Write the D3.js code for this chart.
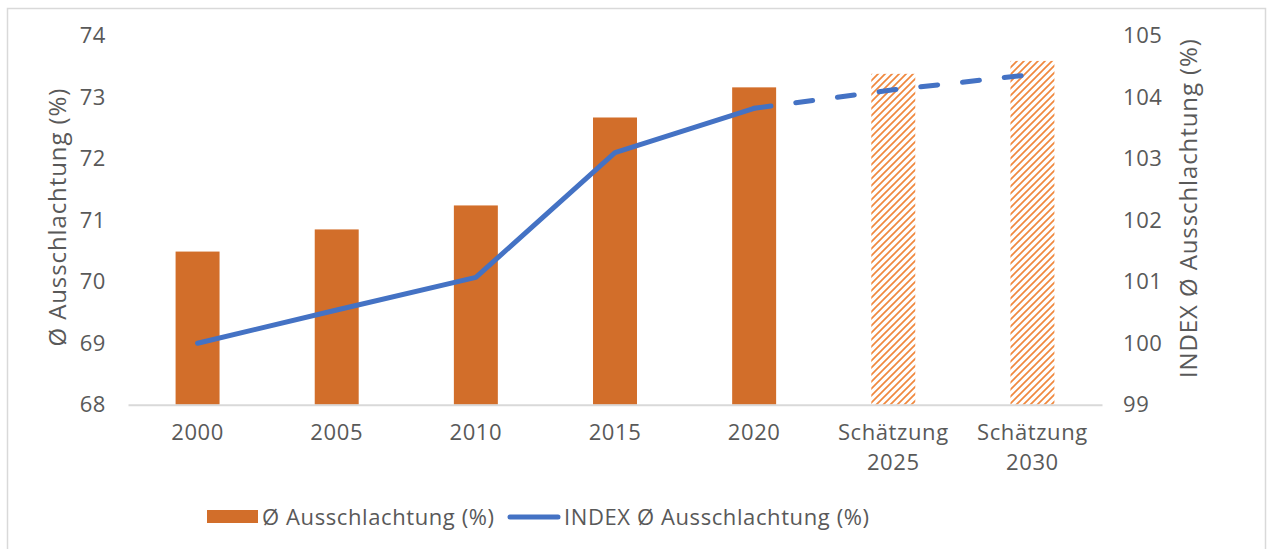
<!DOCTYPE html>
<html>
<head>
<meta charset="utf-8">
<script src="https://cdn.jsdelivr.net/npm/d3@7"></script>
<style>
  body { margin: 0; background: #fff; }
  text { font-family: "Open Sans", sans-serif; fill: #595959; }
</style>
</head>
<body>
<div id="chart"></div>
<script>
// chart data
const categories = ["2000", "2005", "2010", "2015", "2020", "Schätzung 2025", "Schätzung 2030"];
const ausschlachtung = [70.49, 70.85, 71.24, 72.67, 73.16, 73.38, 73.59];
const indexValues = [100.0, 100.54, 101.07, 103.10, 103.82, 104.12, 104.37];
const isEstimate = [false, false, false, false, false, true, true];
const leftTicks = [68, 69, 70, 71, 72, 73, 74];
const rightTicks = [99, 100, 101, 102, 103, 104, 105];
const seriesNames = ["Ø Ausschlachtung (%)", "INDEX Ø Ausschlachtung (%)"];

const width = 1268;
const height = 549;
const plot = { left: 128, right: 1102, top: 35.7, bottom: 404.7 };
const fs = "22px";

const svg = d3.select("#chart")
    .append("svg")
    .attr("width", width)
    .attr("height", height);

// hatch pattern for the estimate bars
const defs = svg.append("defs");
const pat = defs.append("pattern")
    .attr("id", "hatch")
    .attr("patternUnits", "userSpaceOnUse")
    .attr("width", 7)
    .attr("height", 7);
pat.append("rect").attr("width", 7).attr("height", 7).attr("fill", "#fff");
pat.append("path")
    .attr("d", "M-1,8 L8,-1 M-1,1 L1,-1 M6,8 L8,6")
    .attr("stroke", "#F0883E")
    .attr("stroke-width", 1.7);

// chart frame
svg.append("path")
    .attr("d", `M7.5,${height} V8.5 H1265.5 V${height}`)
    .attr("fill", "none")
    .attr("stroke", "#D9D9D9")
    .attr("stroke-width", 1.5);

const x = d3.scaleBand()
    .domain(categories)
    .range([plot.left, plot.right])
    .paddingInner(0.684)
    .paddingOuter(0.342);

const yLeft = d3.scaleLinear().domain([68, 74]).range([plot.bottom, plot.top]);
const yRight = d3.scaleLinear().domain([99, 105]).range([plot.bottom, plot.top]);

// bars
svg.append("g")
    .selectAll("rect")
    .data(categories)
    .join("rect")
    .attr("x", d => x(d))
    .attr("width", x.bandwidth())
    .attr("y", (d, i) => yLeft(ausschlachtung[i]))
    .attr("height", (d, i) => yLeft(68) - yLeft(ausschlachtung[i]))
    .attr("fill", (d, i) => isEstimate[i] ? "url(#hatch)" : "#D26E2A");

// x axis (baseline + labels)
const xAxis = svg.append("g")
    .attr("transform", `translate(0,${plot.bottom})`)
    .call(d3.axisBottom(x).tickSize(0).tickFormat(""));
xAxis.select(".domain").attr("stroke", "#D9D9D9").attr("stroke-width", 2);

xAxis.selectAll(".tick").each(function(d) {
    const t = d3.select(this).append("text")
        .attr("text-anchor", "middle")
        .style("font-size", fs)
        .style("letter-spacing", "0.6px");
    const parts = d.split(" ");
    parts.forEach((p, k) => {
        t.append("tspan")
            .attr("x", 0)
            .attr("y", 35 + k * 30)
            .text(p);
    });
});

// left axis
const leftAxis = svg.append("g")
    .attr("transform", `translate(${plot.left},0)`)
    .call(d3.axisLeft(yLeft).tickValues(leftTicks).tickFormat(d3.format("d")).tickSize(0).tickPadding(22));
leftAxis.select(".domain").remove();
leftAxis.selectAll("text").style("font-size", fs).style("letter-spacing", "0.6px").attr("fill", "#595959");

// right axis
const rightAxis = svg.append("g")
    .attr("transform", `translate(${plot.right},0)`)
    .call(d3.axisRight(yRight).tickValues(rightTicks).tickFormat(d3.format("d")).tickSize(0).tickPadding(21));
rightAxis.select(".domain").remove();
rightAxis.selectAll("text").style("font-size", fs).style("letter-spacing", "0.6px").attr("fill", "#595959");

// axis titles
svg.append("text")
    .attr("transform", `translate(58,${(plot.top + plot.bottom) / 2 - 3}) rotate(-90)`)
    .attr("text-anchor", "middle")
    .attr("dy", "0.35em")
    .style("font-size", "24px")
    .style("letter-spacing", "0.9px")
    .text(seriesNames[0]);

svg.append("text")
    .attr("transform", `translate(1189,${(plot.top + plot.bottom) / 2 - 12}) rotate(-90)`)
    .attr("text-anchor", "middle")
    .attr("dy", "0.35em")
    .style("font-size", "24px")
    .style("letter-spacing", "0.9px")
    .text(seriesNames[1]);

// index line: solid up to 2020, dashed for estimates
const pts = categories.map((c, i) => [x(c) + x.bandwidth() / 2, yRight(indexValues[i])]);
const line = d3.line();
const lastActual = isEstimate.indexOf(true) - 1;

svg.append("path")
    .attr("d", line(pts.slice(0, lastActual + 1)))
    .attr("fill", "none")
    .attr("stroke", "#4472C4")
    .attr("stroke-width", 5)
    .attr("stroke-linejoin", "round")
    .attr("stroke-linecap", "round");

svg.append("path")
    .attr("d", line(pts.slice(lastActual)))
    .attr("fill", "none")
    .attr("stroke", "#4472C4")
    .attr("stroke-width", 5)
    .attr("stroke-linecap", "round")
    .attr("stroke-dasharray", "17,25");

// legend
const legend = svg.append("g");
legend.append("rect")
    .attr("x", 207).attr("y", 510)
    .attr("width", 51).attr("height", 13)
    .attr("fill", "#D26E2A");
legend.append("text")
    .attr("x", 262).attr("y", 517)
    .attr("dy", "0.35em")
    .style("font-size", fs)
    .style("letter-spacing", "0.6px")
    .text(seriesNames[0]);
legend.append("line")
    .attr("x1", 510).attr("x2", 558)
    .attr("y1", 517).attr("y2", 517)
    .attr("stroke", "#4472C4")
    .attr("stroke-width", 5)
    .attr("stroke-linecap", "round");
legend.append("text")
    .attr("x", 564).attr("y", 517)
    .attr("dy", "0.35em")
    .style("font-size", fs)
    .style("letter-spacing", "0.6px")
    .text(seriesNames[1]);
</script>
</body>
</html>
